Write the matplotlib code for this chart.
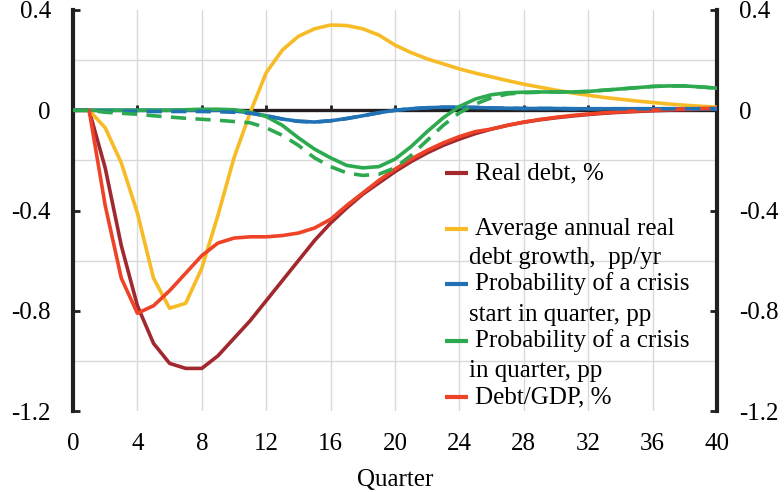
import matplotlib
matplotlib.use("Agg")
import matplotlib.pyplot as plt
import numpy as np

plt.rcParams['font.family'] = ['Liberation Serif', 'DejaVu Serif']

quarters = list(range(0, 41))

real_debt = [0, 0, -0.23, -0.54, -0.78, -0.93, -1.01, -1.03, -1.03, -0.98, -0.91,
             -0.84, -0.76, -0.68, -0.60, -0.52, -0.45, -0.39, -0.335, -0.29, -0.245,
             -0.205, -0.17, -0.14, -0.115, -0.093, -0.075, -0.06, -0.048, -0.038, -0.03,
             -0.023, -0.017, -0.012, -0.008, -0.005, -0.002, 0.0, 0.002, 0.004, 0.005]

avg_growth = [0, 0, -0.07, -0.21, -0.41, -0.67, -0.79, -0.77, -0.63, -0.42, -0.19,
              -0.01, 0.15, 0.24, 0.295, 0.325, 0.34, 0.338, 0.325, 0.30, 0.26,
              0.23, 0.205, 0.185, 0.165, 0.148, 0.133, 0.118, 0.104, 0.092, 0.08,
              0.069, 0.06, 0.051, 0.044, 0.037, 0.031, 0.025, 0.02, 0.016, 0.012]

prob_start = [0, 0, 0, 0, 0, 0, 0, 0, 0, 0, -0.003,
              -0.01, -0.022, -0.035, -0.044, -0.047, -0.042, -0.033, -0.022, -0.01, 0.0,
              0.006, 0.01, 0.012, 0.012, 0.011, 0.009, 0.008, 0.007, 0.007, 0.007,
              0.006, 0.006, 0.006, 0.006, 0.006, 0.006, 0.006, 0.006, 0.006, 0.006]

prob_start_alt = [0, 0, -0.005, -0.005, -0.005, -0.005, -0.005, -0.005, -0.005, -0.006, -0.008,
                  -0.012, -0.022, -0.035, -0.044, -0.047, -0.042, -0.033, -0.022, -0.01, 0.0,
                  0.006, 0.01, 0.012, 0.012, 0.011, 0.009, 0.008, 0.007, 0.007, 0.007,
                  0.006, 0.006, 0.006, 0.006, 0.006, 0.006, 0.006, 0.006, 0.006, 0.006]

prob_crisis = [0, 0, 0, 0, 0, 0, 0, 0.002, 0.004, 0.004, 0.002,
               -0.008, -0.025, -0.06, -0.11, -0.155, -0.19, -0.22, -0.23, -0.225, -0.195,
               -0.145, -0.085, -0.03, 0.015, 0.045, 0.062, 0.07, 0.072, 0.073, 0.073,
               0.073, 0.075, 0.08, 0.085, 0.09, 0.095, 0.097, 0.097, 0.093, 0.088]

prob_crisis_alt = [0, 0, -0.008, -0.012, -0.016, -0.022, -0.027, -0.032, -0.036, -0.04, -0.045,
                   -0.05, -0.07, -0.1, -0.14, -0.19, -0.225, -0.25, -0.26, -0.255, -0.23,
                   -0.18, -0.12, -0.06, -0.01, 0.025, 0.05, 0.065, 0.07, 0.072, 0.073,
                   0.073, 0.075, 0.08, 0.085, 0.09, 0.095, 0.097, 0.097, 0.093, 0.088]

debt_gdp = [0, 0, -0.38, -0.67, -0.81, -0.78, -0.72, -0.65, -0.58, -0.53, -0.51,
            -0.505, -0.505, -0.50, -0.49, -0.47, -0.435, -0.38, -0.33, -0.28, -0.235,
            -0.195, -0.16, -0.13, -0.105, -0.085, -0.075, -0.06, -0.047, -0.037, -0.028,
            -0.021, -0.015, -0.01, -0.006, -0.003, 0.0, 0.003, 0.005, 0.007, 0.008]

x_ticks = [0, 4, 8, 12, 16, 20, 24, 28, 32, 36, 40]
y_ticks = [0.4, 0, -0.4, -0.8, -1.2]
y_ticklabels = ["0.4", "0", "-0.4", "-0.8", "-1.2"]

labels = [["Real debt, %"],
          ["Average annual real", "debt growth,  pp/yr"],
          ["Probability of a crisis", "start in quarter, pp"],
          ["Probability of a crisis", "in quarter, pp"],
          ["Debt/GDP, %"]]

c_darkred = "#A0282E"
c_yellow = "#F7BB25"
c_blue = "#2171B5"
c_green = "#2DA94F"
c_red = "#EF4328"
colors = [c_darkred, c_yellow, c_blue, c_green, c_red]
c_axis = '#231F20'

fig = plt.figure(figsize=(7.84, 4.92), dpi=100)
ax = fig.add_axes([73/784, 1 - 411/492, 644/784, 401/492])

# zero axis line with upward tick marks
ax.axhline(0, color=c_axis, lw=2.4, zorder=2)
ax.vlines(x_ticks[1:-1], 0, 0.022, color=c_axis, lw=2.0, zorder=2)

lw = 2.6
ax.plot(quarters, real_debt, color=c_darkred, lw=lw, zorder=3)
ax.plot(quarters, avg_growth, color=c_yellow, lw=lw, zorder=3)
ax.plot(quarters, prob_start, color=c_blue, lw=lw, zorder=3)
ax.plot(quarters, prob_crisis, color=c_green, lw=lw, zorder=3)
ax.plot(quarters, debt_gdp, color=c_red, lw=lw, zorder=3)
ax.plot(quarters, prob_start_alt, color=c_blue, lw=lw, dashes=(4.2, 2.6), zorder=3)
ax.plot(quarters, prob_crisis_alt, color=c_green, lw=lw, dashes=(4.2, 2.6), zorder=3)

ax.set_xlim(0, 40)
ax.set_ylim(-1.2, 0.4)

ax.set_xticks(x_ticks)
ax.set_yticks(y_ticks)
ax.set_yticklabels(y_ticklabels)
ax.set_yticks(np.arange(-1.2, 0.41, 0.2), minor=True)
ax.grid(True, which='major', axis='x', color='#D9D9D9', lw=1.0)
ax.grid(True, which='minor', axis='y', color='#D9D9D9', lw=1.0)
ax.set_axisbelow(True)

for s in ['top', 'bottom']:
    ax.spines[s].set_visible(False)
for s in ['left', 'right']:
    ax.spines[s].set_linewidth(3.0)
    ax.spines[s].set_color(c_axis)

ax.tick_params(axis='x', which='both', length=0, pad=16, labelsize=18)
ax.tick_params(axis='y', which='minor', length=0)
ax.tick_params(axis='y', which='major', direction='in', length=5, width=2.0,
               left=True, right=True, labelleft=True, labelright=True,
               labelsize=18, pad=16, color=c_axis)

ax.set_xlabel("Quarter", fontsize=18, labelpad=10)

# legend (manual, Excel style)
entry_px = [(173, None), (229, 258), (284, 315), (341, 371), (397, None)]
def fx(px):
    return (px - 73) / 644
def fy(py):
    return (411 - py) / 401
for (y1, y2), lab, col in zip(entry_px, labels, colors):
    ax.plot([fx(445), fx(468)], [fy(y1), fy(y1)], transform=ax.transAxes,
            color=col, lw=3.0, solid_capstyle='butt', zorder=5, clip_on=False)
    ax.text(fx(475), fy(y1), lab[0], transform=ax.transAxes, fontsize=18,
            va='center', ha='left', zorder=5)
    if len(lab) > 1:
        ax.text(fx(469), fy(y2), lab[1], transform=ax.transAxes, fontsize=18,
                va='center', ha='left', zorder=5)

fig.savefig("out.png", dpi=100)
